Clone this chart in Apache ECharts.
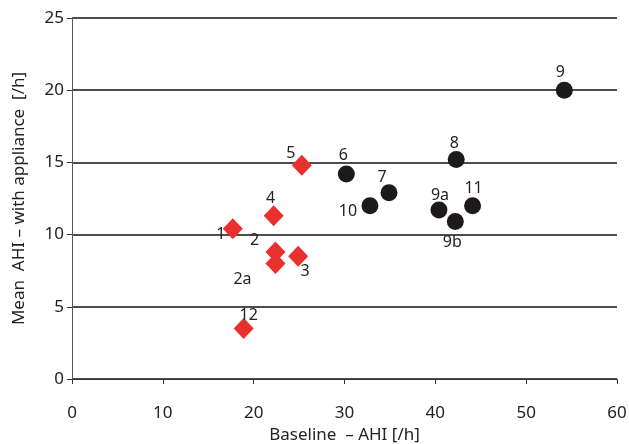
<!DOCTYPE html>
<html>
<head>
<meta charset="utf-8">
<script src="https://cdn.jsdelivr.net/npm/echarts@6/dist/echarts.min.js"></script>
<style>
  html, body { margin: 0; padding: 0; background: #fff; }
  #chart { width: 629px; height: 444px; }
</style>
</head>
<body>
<div id="chart"></div>
<script>
// red diamonds
const redNames = ['1', '4', '2', '2a', '3', '12', '5']
const redX = [17.7, 22.2, 22.4, 22.4, 24.9, 18.9, 25.3]
const redY = [10.4, 11.3, 8.8, 8.0, 8.5, 3.5, 14.8]

// black circles
const blackNames = ['9', '8', '6', '7', '10', '9a', '11', '9b']
const blackX = [54.2, 42.3, 30.2, 34.9, 32.8, 40.4, 44.1, 42.2]
const blackY = [20.0, 15.2, 14.2, 12.9, 12.0, 11.7, 12.0, 10.9]

const xTicks = [0, 10, 20, 30, 40, 50, 60]
const yTicks = [0, 5, 10, 15, 20, 25]

// where each number sits relative to its marker
const labelOffset = {
  '1': [-12, 6], '4': [-3, -17], '2': [-21, -11], '2a': [-33, 16], '3': [7, 15],
  '12': [5, -13], '5': [-11, -12], '9': [-4, -18], '8': [-2, -16], '6': [-3, -19],
  '7': [-7, -15], '10': [-22, 6], '9a': [1, -15], '11': [1, -17], '9b': [-3, 21]
}

const font = 'Noto Sans'
const txt = '#222'

function buildData (names, xs, ys) {
  return names.map((n, i) => ({
    value: [xs[i], ys[i]],
    name: n,
    label: { offset: labelOffset[n] }
  }))
}

const labelStyle = {
  show: true,
  position: 'inside',
  formatter: p => p.name,
  color: txt,
  fontFamily: font,
  fontSize: 16
}

const chart = echarts.init(document.getElementById('chart'))
chart.setOption({
  animation: false,
  grid: { left: 72, right: 12, top: 18, bottom: 65, outerBoundsMode: 'none', containLabel: false },
  xAxis: {
    type: 'value',
    min: xTicks[0],
    max: xTicks[xTicks.length - 1],
    interval: 10,
    name: 'Baseline  – AHI [/h]',
    nameLocation: 'middle',
    nameGap: 46,
    nameTextStyle: { color: txt, fontFamily: font, fontSize: 17 },
    axisLine: { lineStyle: { color: '#333', width: 1 } },
    axisTick: { show: true, length: 5, lineStyle: { color: '#333' } },
    axisLabel: { color: txt, fontFamily: font, fontSize: 17, margin: 26 },
    splitLine: { show: false }
  },
  yAxis: {
    type: 'value',
    min: yTicks[0],
    max: yTicks[yTicks.length - 1],
    interval: 5,
    name: 'Mean  AHI – with appliance  [/h]',
    nameLocation: 'middle',
    nameGap: 44,
    nameTextStyle: { color: txt, fontFamily: font, fontSize: 17 },
    axisLine: { show: true, lineStyle: { color: '#555', width: 1 } },
    axisTick: { show: true, length: 5, lineStyle: { color: '#333' } },
    axisLabel: { color: txt, fontFamily: font, fontSize: 17, margin: 8 },
    splitLine: { show: true, lineStyle: { color: '#111', width: 1.5 } }
  },
  series: [
    {
      type: 'scatter',
      symbol: 'diamond',
      symbolSize: [20, 21],
      itemStyle: { color: '#e8312f', opacity: 1 },
      label: labelStyle,
      data: buildData(redNames, redX, redY)
    },
    {
      type: 'scatter',
      symbol: 'circle',
      symbolSize: 17,
      itemStyle: { color: '#1c1a1a', opacity: 1 },
      label: labelStyle,
      data: buildData(blackNames, blackX, blackY)
    }
  ]
})
</script>
</body>
</html>
